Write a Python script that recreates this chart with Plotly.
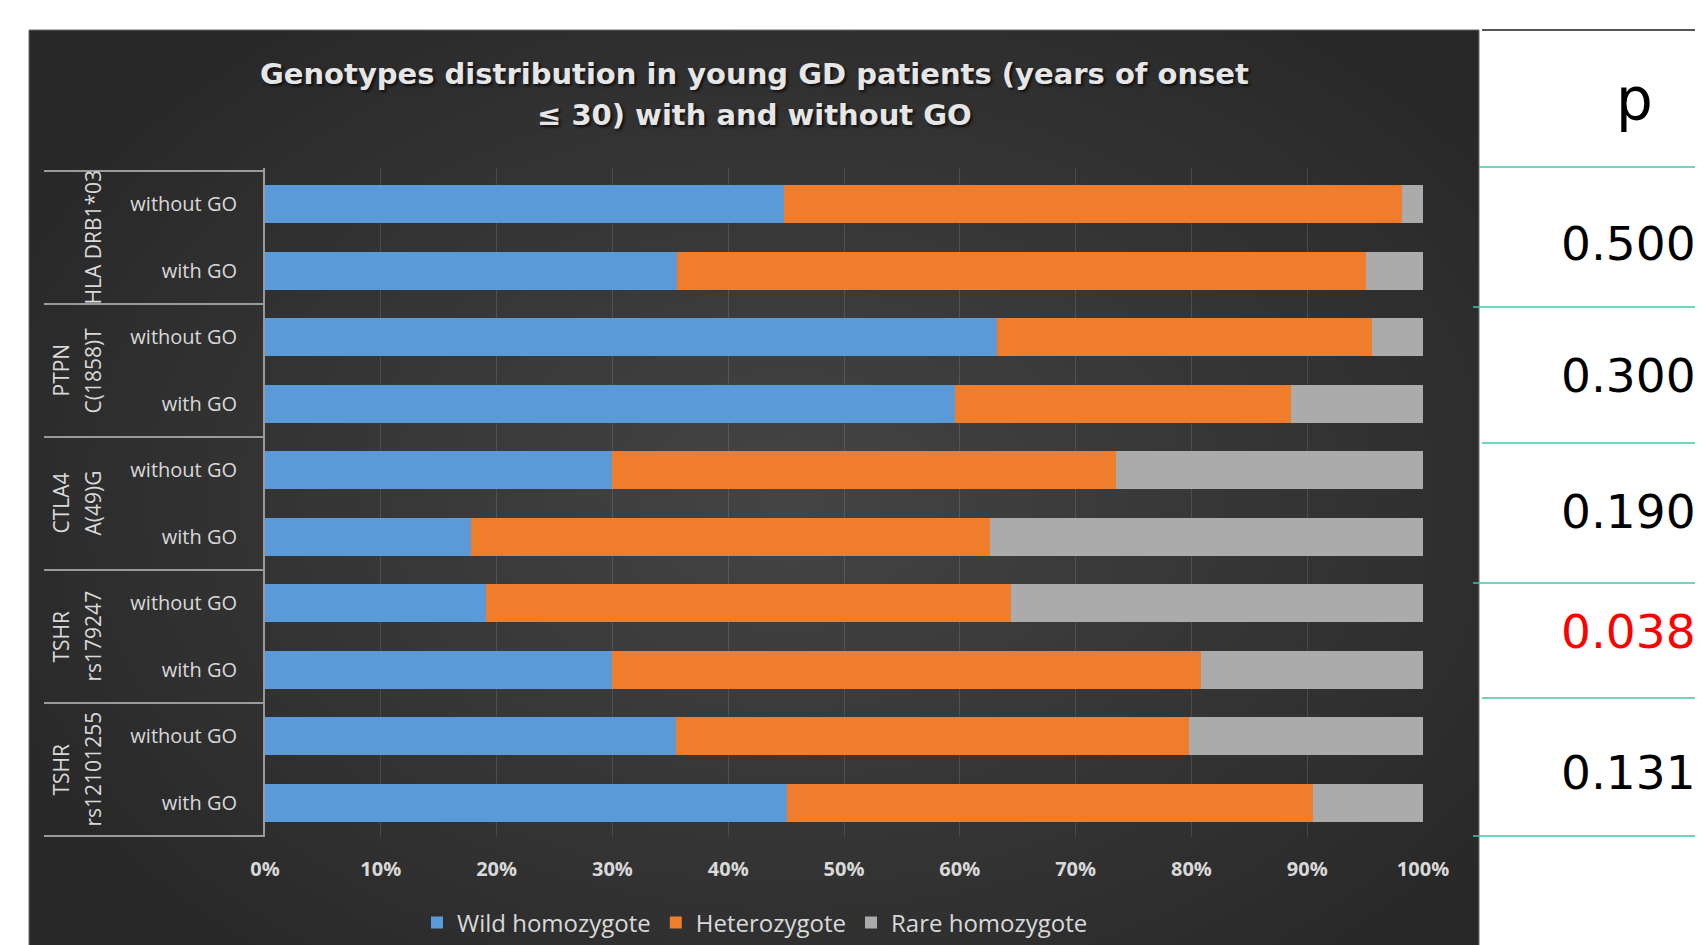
import plotly.graph_objects as go

# ---------------- data ----------------
group_line1 = ["", "PTPN", "CTLA4", "TSHR", "TSHR"]
group_line2 = ["HLA DRB1*03", "C(1858)T", "A(49)G", "rs179247", "rs12101255"]
subgroups = ["without GO", "with GO"]

# percentages, top-to-bottom order (group x subgroup)
wild_homozygote = [44.8, 35.6, 63.2, 59.6, 30.0, 17.8, 19.1, 30.0, 35.5, 45.1]
heterozygote    = [53.4, 59.5, 32.4, 29.0, 43.5, 44.8, 45.3, 50.8, 44.3, 45.4]
rare_homozygote = [1.8, 4.9, 4.4, 11.4, 26.5, 37.4, 35.6, 19.2, 20.2, 9.5]

series_names = ["Wild homozygote", "Heterozygote", "Rare homozygote"]
series_colors = ["#5a9ad9", "#ef7d2c", "#ababab"]

x_tickvals = [0, 10, 20, 30, 40, 50, 60, 70, 80, 90, 100]
x_ticktext = ["0%", "10%", "20%", "30%", "40%", "50%", "60%", "70%", "80%", "90%", "100%"]

p_header = "p"
p_values = ["0.500", "0.300", "0.190", "0.038", "0.131"]
p_colors = ["#000000", "#000000", "#000000", "#ff0000", "#000000"]

title_lines = ["Genotypes distribution in young GD patients (years of onset",
               "≤ 30) with and without GO"]

# ---------------- layout geometry (reference pixels) ----------------
OFF = 8                     # default body margin of the html page
W, H = 1703 - OFF, 945 - OFF
L, R, T, B = 265, 1423, 168, 837   # plot area in window pixels
PW, PH = R - L, B - T


def fx(px):
    return (px - L) / PW


def fy(py):
    return (B - py) / PH


y_ids = [f"{g2}|{s}" for g2 in group_line2 for s in subgroups]
y_text = [s for g2 in group_line2 for s in subgroups]

fig = go.Figure()
for name, vals, col in zip(series_names, [wild_homozygote, heterozygote, rare_homozygote], series_colors):
    fig.add_trace(go.Bar(
        y=y_ids, x=vals, name=name, orientation="h",
        marker=dict(color=col, line=dict(width=0)),
        hoverinfo="x+name",
    ))

shapes = []
# dark panel
shapes.append(dict(type="rect", xref="paper", yref="paper",
                   x0=fx(29), x1=fx(1479), y0=fy(960), y1=fy(30),
                   fillcolor="#282828", line=dict(color="#6a6a6a", width=1), layer="below"))
# radial-ish gradient
cx, cy = 790, 500
n = 28
for i in range(n):
    rx = 860 * (1 - i / n)
    ry = 600 * (1 - i / n)
    shapes.append(dict(type="circle", xref="paper", yref="paper",
                       x0=fx(cx - rx), x1=fx(cx + rx), y0=fy(cy + ry), y1=fy(cy - ry),
                       fillcolor="rgba(255,255,255,0.0072)", line=dict(width=0), layer="below"))
# category box lines
n_groups = len(group_line2)
for gi in range(n_groups + 1):
    yv = gi * 2 - 0.5
    shapes.append(dict(type="line", xref="paper", yref="y",
                       x0=fx(44), x1=0, y0=yv, y1=yv,
                       line=dict(color="#9a9a9a", width=2)))
# right table
shapes.append(dict(type="line", xref="paper", yref="paper",
                   x0=fx(1482), x1=fx(1703), y0=fy(30), y1=fy(30),
                   line=dict(color="#555555", width=2)))
row_lines = [(167, 1479), (307, 1473), (443, 1482), (583, 1473), (698, 1482), (836, 1473)]
for py, x0 in row_lines:
    shapes.append(dict(type="line", xref="paper", yref="paper",
                       x0=fx(x0), x1=fx(1703), y0=fy(py), y1=fy(py),
                       line=dict(color="#3cc8a6", width=1.5)))

annotations = []
# title (two lines, wide spacing)
title_font = dict(family="DejaVu Sans", size=29, color="#e6e6e6", weight="bold",
                  shadow="2px 2px 3px rgba(0,0,0,0.7)")
for txt, py in zip(title_lines, [74, 115]):
    annotations.append(dict(text=txt, xref="paper", yref="paper", x=fx(754), y=fy(py),
                            showarrow=False, font=title_font, xanchor="center", yanchor="middle"))

lab_font = dict(family="Open Sans", size=21, color="#d9d9d9")
for gi in range(n_groups):
    yc = gi * 2 + 0.5
    if group_line1[gi]:
        annotations.append(dict(text=group_line1[gi], xref="paper", yref="y", x=fx(60), y=yc,
                                textangle=-90, showarrow=False, font=lab_font,
                                xanchor="center", yanchor="middle"))
    annotations.append(dict(text=group_line2[gi], xref="paper", yref="y", x=fx(92), y=yc,
                            textangle=-90, showarrow=False, font=lab_font,
                            xanchor="center", yanchor="middle"))

annotations.append(dict(text=p_header, xref="paper", yref="paper", x=fx(1634), y=fy(100),
                        showarrow=False, font=dict(family="DejaVu Sans", size=58, color="#000000"),
                        xanchor="center", yanchor="middle"))
p_y = [243, 375, 511, 631, 772]
for txt, col, py in zip(p_values, p_colors, p_y):
    annotations.append(dict(text=txt, xref="paper", yref="paper", x=fx(1698), y=fy(py),
                            showarrow=False, font=dict(family="DejaVu Sans", size=47, color=col),
                            xanchor="right", yanchor="middle"))

fig.update_layout(
    width=W, height=H,
    margin=dict(l=L - OFF, r=W - (R - OFF), t=T - OFF, b=H - (B - OFF), pad=0, autoexpand=False),
    paper_bgcolor="#ffffff",
    plot_bgcolor="rgba(0,0,0,0)",
    barmode="stack",
    bargap=0.43,
    xaxis=dict(range=[0, 100], tickvals=x_tickvals, ticktext=x_ticktext,
               showgrid=True, gridcolor="rgba(255,255,255,0.12)", gridwidth=1,
               zeroline=False, showline=False, ticks="",
               tickfont=dict(family="Open Sans", size=20, color="#d9d9d9", weight="bold"),
               ticklabelstandoff=18, fixedrange=True, automargin=False),
    yaxis=dict(categoryorder="array", categoryarray=y_ids, autorange="reversed",
               tickvals=y_ids, ticktext=y_text, ticks="",
               showline=True, linecolor="#9a9a9a", linewidth=2, showgrid=False,
               tickfont=dict(family="Open Sans", size=20, color="#d9d9d9"),
               ticklabelstandoff=22, fixedrange=True, automargin=False),
    legend=dict(orientation="h", x=fx(755), xanchor="center", y=fy(923), yanchor="middle",
                font=dict(family="Open Sans", size=24, color="#d9d9d9"),
                bgcolor="rgba(0,0,0,0)", itemclick=False, traceorder="normal"),
    shapes=shapes,
    annotations=annotations,
    showlegend=True,
)

fig.write_html("out.html")
